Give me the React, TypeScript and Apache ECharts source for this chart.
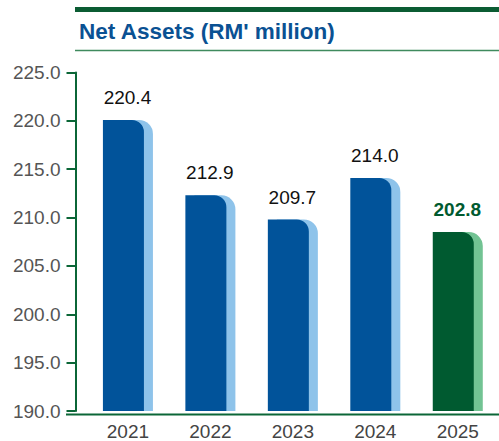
import React, { useEffect, useRef } from "react";
import * as echarts from "echarts";

const categories = ["2021", "2022", "2023", "2024", "2025"];
// printed labels
const labelValues = [220.4, 212.9, 209.7, 214.0, 202.8];
// bar heights as drawn in the picture
const barValues = [220.1, 212.3, 209.8, 214.1, 208.5];
const yMin = 190;
const yMax = 225;
const yInterval = 5;

const BLUE = "#01539a";
const BLUE_LIGHT = "#8ec3ea";
const GREEN = "#005a30";
const GREEN_LIGHT = "#72c393";
const AXIS_GREEN = "#0b6637";
const FONT = "'Liberation Sans', Arial, sans-serif";

export default function App() {
  const ref = useRef<HTMLDivElement>(null);
  useEffect(() => {
    if (!ref.current) return;
    const chart = echarts.init(ref.current, null, { renderer: "svg" });
    const last = categories.length - 1;
    chart.setOption({
      animation: false,
      backgroundColor: "#ffffff",
      title: {
        text: "Net Assets (RM' million)",
        left: 74,
        top: 15,
        textStyle: { fontFamily: FONT, fontSize: 22.5, fontWeight: "bold", color: "#0a5193" },
      },
      grid: { left: 86.7, top: 72.5, width: 416, height: 342 },
      xAxis: {
        type: "category",
        data: categories,
        axisLine: { show: false },
        axisTick: { show: false },
        axisLabel: { fontFamily: FONT, fontSize: 19, color: "#444", margin: 11 },
      },
      yAxis: {
        type: "value",
        min: yMin,
        max: yMax,
        interval: yInterval,
        offset: 11.2,
        splitLine: { show: false },
        axisLine: { show: true, lineStyle: { color: AXIS_GREEN, width: 2 } },
        axisTick: { show: true, length: 9, lineStyle: { color: AXIS_GREEN, width: 2 } },
        axisLabel: {
          fontFamily: FONT,
          fontSize: 19,
          color: "#555",
          margin: 15,
          formatter: (v: number) => v.toFixed(1),
        },
      },
      series: [
        {
          type: "bar",
          name: "front",
          data: barValues.map((v, i) => ({
            value: v,
            itemStyle: { color: i === last ? GREEN : BLUE },
            label: i === last ? { color: GREEN, fontWeight: "bold" } : undefined,
          })),
          barWidth: 41,
          barGap: "-78%",
          z: 3,
          itemStyle: { borderRadius: [0, 12, 0, 0] },
          label: {
            show: true,
            position: "top",
            distance: 13,
            offset: [4, 0],
            fontFamily: FONT,
            fontSize: 19,
            color: "#111",
            formatter: (p: any) => labelValues[p.dataIndex].toFixed(1),
          },
        },
        {
          type: "bar",
          name: "back",
          data: barValues.map((v, i) => ({
            value: v,
            itemStyle: { color: i === last ? GREEN_LIGHT : BLUE_LIGHT },
          })),
          barWidth: 41,
          z: 2,
          itemStyle: { borderRadius: [0, 14, 0, 0] },
        },
      ],
      graphic: [
        {
          type: "rect",
          shape: { x: 75, y: 7, width: 424, height: 5 },
          style: { fill: "#0b5c33" },
          silent: true,
        },
        {
          type: "line",
          shape: { x1: 75, y1: 50.5, x2: 499, y2: 50.5 },
          style: { stroke: "#3f8a5e", lineWidth: 1.5 },
          silent: true,
        },
        {
          type: "line",
          shape: { x1: 66, y1: 414.5, x2: 499, y2: 414.5 },
          style: { stroke: AXIS_GREEN, lineWidth: 2 },
          silent: true,
          z: 10,
        },
      ],
    });
    return () => chart.dispose();
  }, []);
  return (
    <div
      ref={ref}
      style={{ position: "fixed", left: 0, top: 0, width: 499, height: 441 }}
    />
  );
}
